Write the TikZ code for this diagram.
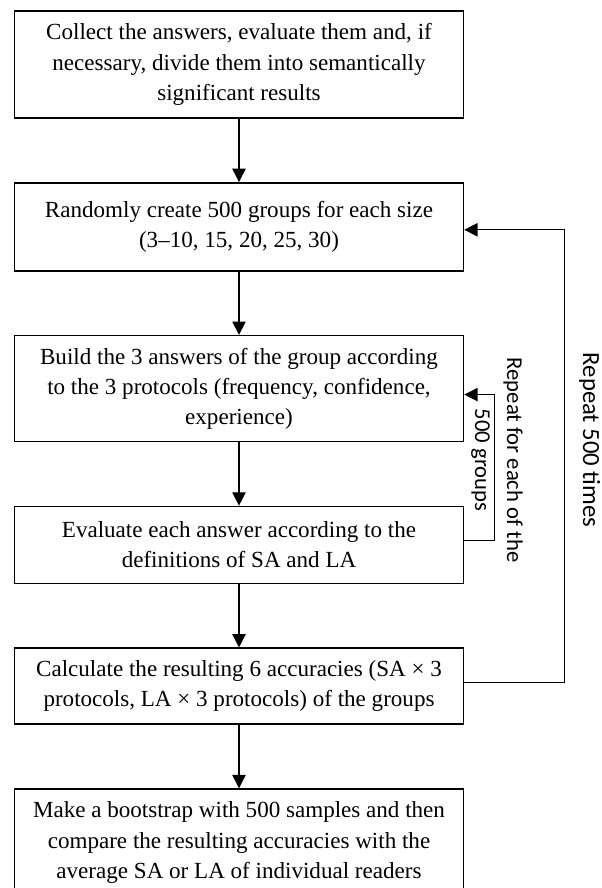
\documentclass[tikz,border=0pt]{standalone}
\usepackage{fontspec}
\setmainfont{Liberation Serif}
\newfontfamily\loopfont{Carlito}
\usetikzlibrary{positioning,arrows.meta}

\begin{document}
\begin{tikzpicture}[
    >={Triangle[length=10pt,width=10pt]},
    node distance=47.5pt,
    stepbox/.style={
        rectangle, draw, line width=1.1pt, minimum width=336.75pt,
        inner sep=0pt, align=center,
        font=\fontsize{17.3pt}{22.7pt}\selectfont
    },
    flow/.style={->, line width=0.9pt},
    loopback/.style={->, line width=0.9pt},
    looplabel/.style={
        rotate=-90, inner sep=0pt, align=center,
        font=\loopfont\fontsize{17pt}{24pt}\selectfont
    },
]
\useasboundingbox (0,0) rectangle (450.75pt,-666pt);

% Main steps
\node[stepbox, minimum height=80.25pt] (collect) at (179.25pt,-48.375pt)
    {Collect the answers, evaluate them and, if\\
     necessary, divide them into semantically\\
     significant results};
\node[stepbox, minimum height=66pt, below=of collect] (groups)
    {Randomly create 500 groups for each size\\
     (3--10, 15, 20, 25, 30)};
\node[stepbox, minimum height=79.5pt, below=of groups] (build)
    {Build the 3 answers of the group according\\
     to the 3 protocols (frequency, confidence,\\
     experience)};
\node[stepbox, minimum height=57.75pt, below=of build] (evaluate)
    {Evaluate each answer according to the\\
     definitions of SA and LA};
\node[stepbox, minimum height=57pt, below=of evaluate] (calc)
    {Calculate the resulting 6 accuracies (SA × 3\\
     protocols, LA × 3 protocols) of the groups};
\node[stepbox, minimum height=80.25pt, below=of calc] (bootstrap)
    {Make a bootstrap with 500 samples and then\\
     compare the resulting accuracies with the\\
     average SA or LA of individual readers};

% Main flow
\draw[flow] (collect) -- (groups);
\draw[flow] (groups) -- (build);
\draw[flow] (build) -- (evaluate);
\draw[flow] (evaluate) -- (calc);
\draw[flow] (calc) -- (bootstrap);

% Loops
\draw[loopback] ([yshift=3.4pt]evaluate.east) -- ++(22.9pt,0) coordinate (innerturn)
    |- ([yshift=-4.5pt]build.east);
\draw[loopback] ([yshift=3pt]calc.east) -- ++(75.4pt,0) coordinate (outerturn)
    |- ([yshift=-2.25pt]groups.east);

\node[looplabel] (innerlbl) at (372.75pt,-345pt) {Repeat for each of the\\500 groups};
\node[looplabel, anchor=base, font=\loopfont\fontsize{18.5pt}{24pt}\selectfont]
    (outerlbl) at (437.25pt,-330pt) {Repeat 500 times};

\end{tikzpicture}
\end{document}
